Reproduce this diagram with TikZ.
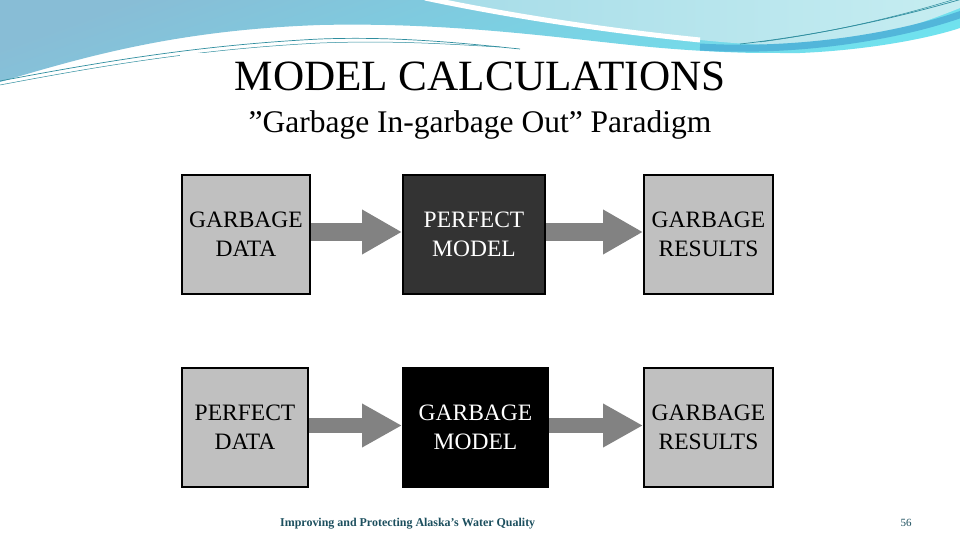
\documentclass[tikz,border=0pt]{standalone}
\usepackage{fontspec}
\setmainfont{Liberation Serif}
\usetikzlibrary{arrows.meta,calc}
\definecolor{boxgray}{HTML}{C0C0C0}
\definecolor{darkbox}{HTML}{333333}
\definecolor{arrowgray}{HTML}{828282}
\definecolor{wavemid}{HTML}{88BDD6}
\definecolor{wavecyan}{HTML}{6FE3EF}
\definecolor{wavelight}{HTML}{A6DCE8}
\definecolor{wavepale}{HTML}{C6EDF1}
\definecolor{waveband}{HTML}{52B6DA}
\definecolor{waveline}{HTML}{2F8E9F}
\definecolor{footteal}{HTML}{1C4F5E}
\begin{document}
\begin{tikzpicture}[x=1pt,y=-1pt,
  box/.style={draw=black, line width=2pt, inner sep=0pt, minimum height=119pt,
              align=center, font=\fontsize{23.5}{29}\selectfont},
  lightbox/.style={box, fill=boxgray, text=black},
  darkbx/.style={box, fill=darkbox, text=white},
  blackbx/.style={box, fill=black, text=white},
  fattop/.style={draw=arrowgray, line width=18pt, -{Triangle[length=40pt,width=42pt]}},
  fatbot/.style={draw=arrowgray, line width=15pt, -{Triangle[length=40pt,width=41pt]}},
  thinwave/.style={draw=waveline, line width=0.7pt}
]
\useasboundingbox (0,0) rectangle (960,540);
\fill[white] (0,0) rectangle (960,540);

% --- decorative wave at the top ---
\shade[top color=wavemid, bottom color=wavecyan, shading angle=20]
  (0,0) -- (960,0) -- (960,28)
  .. controls (930,38) and (870,50) .. (800,53)
  .. controls (760,54) and (700,52) .. (640,46)
  .. controls (560,38) and (450,22) .. (320,25)
  .. controls (180,30) and (90,55) .. (0,82) -- cycle;
\shade[left color=wavelight, right color=wavepale]
  (430,0) .. controls (520,18) and (620,32) .. (700,40)
  .. controls (760,46) and (800,47) .. (840,42)
  .. controls (890,35) and (930,20) .. (960,8) -- (960,0) -- cycle;
\draw[white, line width=5pt] (425,-2) .. controls (520,18) and (620,32) .. (700,40);
\draw[waveband, line width=7pt] (700,47) .. controls (800,53) and (900,36) .. (962,14);
\draw[thinwave] (0,81) .. controls (100,62) and (200,45) .. (320,39)
  .. controls (400,36) and (470,44) .. (520,49);
\draw[thinwave, line width=0.5pt] (0,85) .. controls (100,66) and (200,49) .. (320,43)
  .. controls (400,40) and (460,45) .. (500,47);
\draw[thinwave] (740,44) .. controls (830,34) and (910,14) .. (962,-1);
\draw[thinwave, line width=0.5pt] (760,42) .. controls (850,30) and (920,10) .. (962,-3);

% --- white picture panel ---
\fill[white] (180,53) rectangle (780,495);

% --- titles ---
\node[anchor=base, font=\fontsize{43.2}{48}\selectfont, inner sep=0pt] (title) at (480,91) {MODEL CALCULATIONS};
\node[anchor=base, font=\fontsize{31.5}{36}\selectfont, inner sep=0pt] (subtitle) at (480,133) {”Garbage In-garbage Out” Paradigm};

% --- top row ---
\node[lightbox, minimum width=128pt] (t1) at (246,234.5) {GARBAGE\\DATA};
\node[darkbx,   minimum width=142pt] (t2) at (474,234.5) {PERFECT\\MODEL};
\node[lightbox, minimum width=129pt] (t3) at (708.5,234.5) {GARBAGE\\RESULTS};
\draw[fattop] ($(t1.east)+(0,-2.5)$) -- ($(t2.west)+(0,-2.5)$);
\draw[fattop] ($(t2.east)+(0,-2.5)$) -- ($(t3.west)+(0,-2.5)$);

% --- bottom row ---
\node[lightbox, minimum width=126pt] (b1) at (245,427.5) {PERFECT\\DATA};
\node[blackbx,  minimum width=145pt] (b2) at (475.5,427.5) {GARBAGE\\MODEL};
\node[lightbox, minimum width=129pt] (b3) at (708.5,427.5) {GARBAGE\\RESULTS};
\draw[fatbot] ($(b1.east)+(0,-2)$) -- ($(b2.west)+(0,-2)$);
\draw[fatbot] ($(b2.east)+(0,-2)$) -- ($(b3.west)+(0,-2)$);

% --- footer ---
\node[anchor=base west, inner sep=0pt, text=footteal] (foot) at (280,526)
  {\resizebox{255pt}{!}{\fontsize{11}{13}\selectfont\bfseries Improving and Protecting Alaska's Water Quality}};
\node[anchor=base, inner sep=0pt, text=footteal, font=\fontsize{11}{12}\selectfont] (page) at (906,526) {56};
\end{tikzpicture}
\end{document}
